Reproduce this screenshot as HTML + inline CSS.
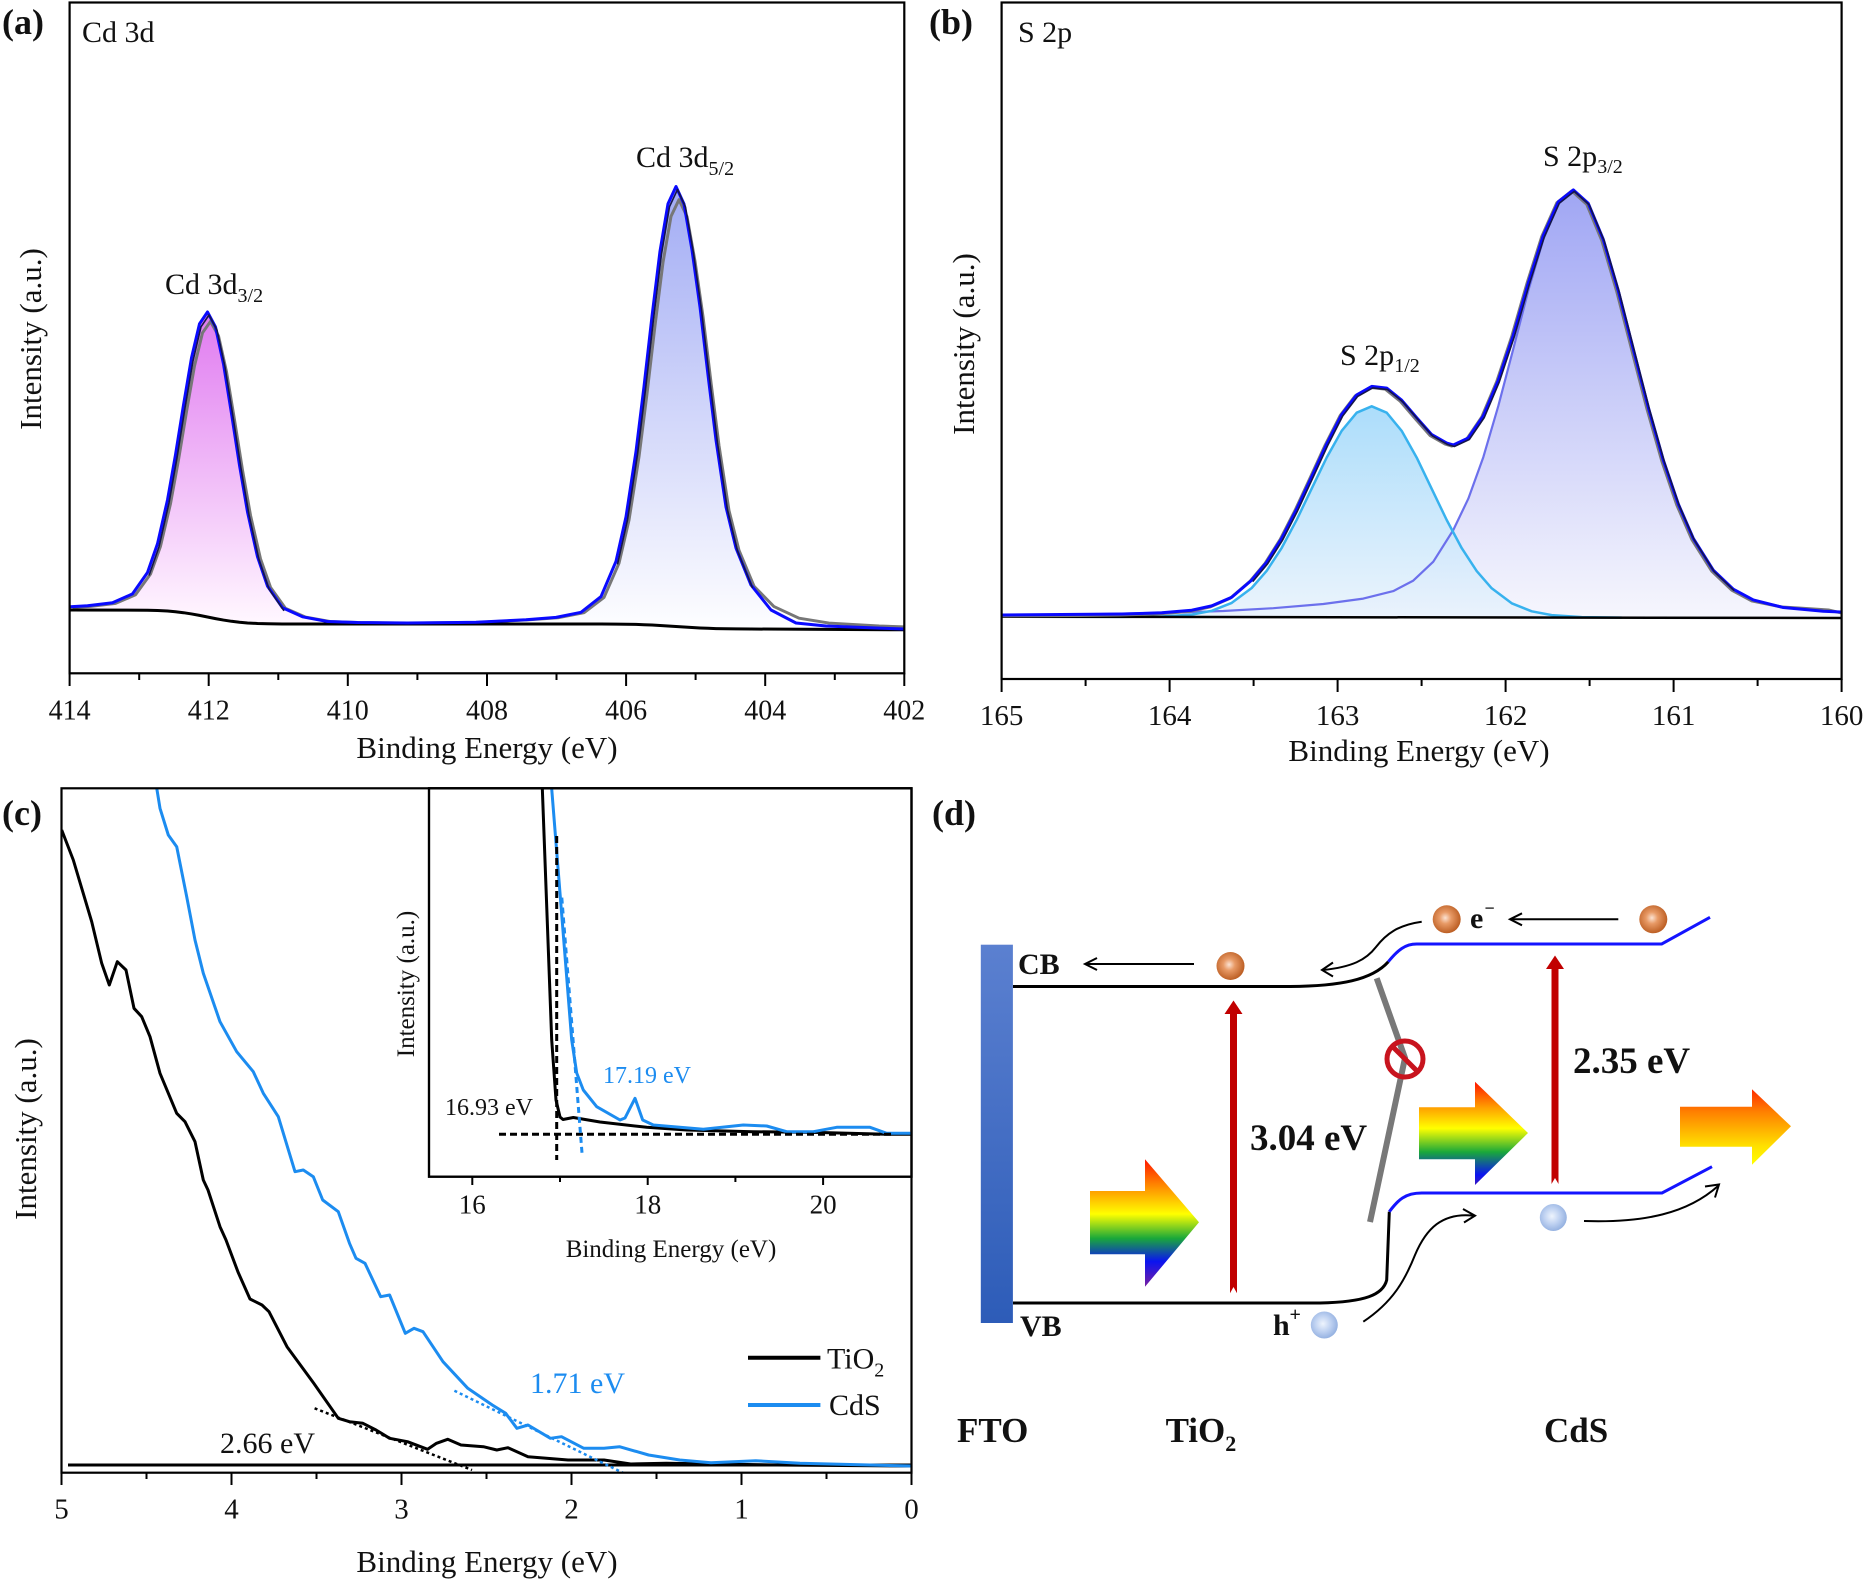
<!DOCTYPE html>
<html>
<head>
<meta charset="utf-8">
<style>
html,body{margin:0;padding:0;background:#fff;}
svg{display:block;}
</style>
</head>
<body>
<svg width="1863" height="1582" viewBox="0 0 1863 1582" xmlns="http://www.w3.org/2000/svg" font-family="'Liberation Serif', serif">
<defs>
  <linearGradient id="gA1" gradientUnits="userSpaceOnUse" x1="0" y1="312" x2="0" y2="620">
    <stop offset="0" stop-color="#e07af0"/><stop offset="1" stop-color="#fff6ff"/>
  </linearGradient>
  <linearGradient id="gA2" gradientUnits="userSpaceOnUse" x1="0" y1="186" x2="0" y2="626">
    <stop offset="0" stop-color="#a2acf4"/><stop offset="1" stop-color="#fdfdff"/>
  </linearGradient>
  <linearGradient id="gB1" gradientUnits="userSpaceOnUse" x1="0" y1="406" x2="0" y2="617">
    <stop offset="0" stop-color="#9dd7fa"/><stop offset="1" stop-color="#e8f2fc"/>
  </linearGradient>
  <linearGradient id="gB2" gradientUnits="userSpaceOnUse" x1="0" y1="190" x2="0" y2="617">
    <stop offset="0" stop-color="#a0a6f4"/><stop offset="1" stop-color="#f6f6fd"/>
  </linearGradient>
  <linearGradient id="gFTO" x1="0" y1="0" x2="0" y2="1">
    <stop offset="0" stop-color="#5b80d0"/><stop offset="1" stop-color="#2d5cb8"/>
  </linearGradient>
  <linearGradient id="rb1" gradientUnits="userSpaceOnUse" x1="0" y1="1159" x2="0" y2="1287">
    <stop offset="0" stop-color="#ff1500"/><stop offset="0.25" stop-color="#ffa000"/>
    <stop offset="0.43" stop-color="#ffff00"/><stop offset="0.62" stop-color="#1aa83a"/>
    <stop offset="0.8" stop-color="#0a14f0"/><stop offset="1" stop-color="#7a1ea0"/>
  </linearGradient>
  <linearGradient id="rb2" gradientUnits="userSpaceOnUse" x1="0" y1="1082" x2="0" y2="1185">
    <stop offset="0" stop-color="#ff1500"/><stop offset="0.25" stop-color="#ffa000"/>
    <stop offset="0.45" stop-color="#ffff00"/><stop offset="0.68" stop-color="#1aa83a"/>
    <stop offset="0.9" stop-color="#0a14f0"/><stop offset="1" stop-color="#3a18c0"/>
  </linearGradient>
  <linearGradient id="rb3" gradientUnits="userSpaceOnUse" x1="0" y1="1089" x2="0" y2="1165">
    <stop offset="0" stop-color="#ff2a00"/><stop offset="0.3" stop-color="#ff8000"/>
    <stop offset="0.75" stop-color="#ffe000"/><stop offset="1" stop-color="#ffff00"/>
  </linearGradient>
  <radialGradient id="gE" cx="0.45" cy="0.45" r="0.6">
    <stop offset="0" stop-color="#fbe2d2"/><stop offset="0.35" stop-color="#e89a66"/><stop offset="1" stop-color="#b6561a"/>
  </radialGradient>
  <radialGradient id="gH" cx="0.45" cy="0.45" r="0.6">
    <stop offset="0" stop-color="#eef4fd"/><stop offset="0.5" stop-color="#bed1f1"/><stop offset="1" stop-color="#8eacde"/>
  </radialGradient>
  <clipPath id="cA"><rect x="70" y="3" width="834" height="670"/></clipPath>
  <clipPath id="cB"><rect x="1002" y="3" width="839" height="676"/></clipPath>
  <clipPath id="cC"><rect x="62" y="789" width="849" height="683"/></clipPath>
  <clipPath id="cI"><rect x="430" y="789" width="481" height="387"/></clipPath>
</defs>

<!-- ================= Panel (a) ================= -->
<g clip-path="url(#cA)">
  <polygon fill="url(#gA1)" points="69.6,606.8 87.5,605.8 112.5,602.8 132.5,593.9 147.5,572.5 157.5,543.8 167.5,499.9 175.5,454.8 183.5,405 191.5,357.9 199.5,323.8 207.5,312 215.5,327 223.5,364 231.5,413.6 239.5,465.3 247.5,511.9 257.5,556.8 267.5,586.1 282.5,607.8 302.5,616.8 327.5,621.5 327.5,624 302.5,624 282.5,623.95 267.5,623.8 257.5,623.5 247.5,622.95 239.5,622.25 231.5,621.3 223.5,620.05 215.5,618.6 207.5,617 199.5,615.4 191.5,613.95 183.5,612.7 175.5,611.75 167.5,611.05 157.5,610.5 147.5,610.2 69.6,610"/>
  <polygon fill="url(#gA2)" points="526,619.7 556,617.4 581,612.3 601,596.6 616,561.3 626,516.8 636,451.5 644,386.5 652,316.3 660,251.2 668,203.7 676,186.5 684,204 692,250 700,307 708,375 716,440 726,507 736,548 751,585 771,610 796,623 826,626 876,628 904.3,629 904.3,629.5 751,629 736,628.9 726,628.8 716,628.6 708,628.3 700,627.98 692,627.55 684,627.04 676,626.5 668,625.96 660,625.45 652,625 644,624.7 636,624.4 626,624.2 616,624.1 601,624.02 581,624 526,624"/>
  <!-- gray raw data -->
  <polyline fill="none" stroke="#777" stroke-width="3" stroke-linejoin="round" transform="translate(3,18.75) scale(1,0.97)" points="69.6,606.8 87.5,605.8 112.5,602.8 132.5,593.9 147.5,572.5 157.5,543.8 167.5,499.9 175.5,454.8 183.5,405 191.5,357.9 199.5,323.8 207.5,312 215.5,327 223.5,364 231.5,413.6 239.5,465.3 247.5,511.9 257.5,556.8 267.5,586.1 282.5,607.8 302.5,616.8 327.5,621.5 357.5,622.5 407.5,623 457.5,622.5 476,622.3 526,619.7 556,617.4 581,612.3 601,596.6 616,561.3 626,516.8 636,451.5 644,386.5 652,316.3 660,251.2 668,203.7 676,186.5 684,204 692,250 700,307 708,375 716,440 726,507 736,548 751,585 771,606 796,618 826,623 876,626 904.3,627"/>
  <!-- background -->
  <polyline fill="none" stroke="#000" stroke-width="3" stroke-linejoin="round" points="69.6,610 147.5,610.2 157.5,610.5 167.5,611.05 175.5,611.75 183.5,612.7 191.5,613.95 199.5,615.4 207.5,617 215.5,618.6 223.5,620.05 231.5,621.3 239.5,622.25 247.5,622.95 257.5,623.5 267.5,623.8 282.5,623.95 302.5,624 581,624 601,624.02 616,624.1 626,624.2 636,624.4 644,624.7 652,625 660,625.45 668,625.96 676,626.5 684,627.04 692,627.55 700,627.98 708,628.3 716,628.6 726,628.8 736,628.9 751,629 904.3,629.8"/>
  <!-- fit envelope -->
  <polyline fill="none" stroke="#0a0aff" stroke-width="3" stroke-linejoin="round" points="69.6,606.8 87.5,605.8 112.5,602.8 132.5,593.9 147.5,572.5 157.5,543.8 167.5,499.9 175.5,454.8 183.5,405 191.5,357.9 199.5,323.8 207.5,312 215.5,327 223.5,364 231.5,413.6 239.5,465.3 247.5,511.9 257.5,556.8 267.5,586.1 282.5,607.8 302.5,616.8 327.5,621.5 357.5,622.5 407.5,623 457.5,622.5 476,622.3 526,619.7 556,617.4 581,612.3 601,596.6 616,561.3 626,516.8 636,451.5 644,386.5 652,316.3 660,251.2 668,203.7 676,186.5 684,204 692,250 700,307 708,375 716,440 726,507 736,548 751,585 771,610 796,623 826,626 876,628 904.3,629"/>
  <polyline fill="none" stroke="#15154a" stroke-width="1.6" stroke-linejoin="round" transform="translate(1.5,3)" points="147.5,572.5 157.5,543.8 167.5,499.9 175.5,454.8 183.5,405 191.5,357.9 199.5,323.8 207.5,312 215.5,327 223.5,364 231.5,413.6 239.5,465.3 247.5,511.9 257.5,556.8 267.5,586.1 282.5,607.8"/>
  <polyline fill="none" stroke="#15154a" stroke-width="1.6" stroke-linejoin="round" transform="translate(1.5,3)" points="616,561.3 626,516.8 636,451.5 644,386.5 652,316.3 660,251.2 668,203.7 676,186.5 684,204 692,250 700,307 708,375 716,440 726,507 736,548 751,585"/>
</g>
<rect x="69.6" y="2.5" width="834.7" height="670.8" fill="none" stroke="#000" stroke-width="2.2"/>
<g stroke="#000" stroke-width="2">
  <line x1="69.6" y1="673" x2="69.6" y2="686"/><line x1="139.2" y1="673" x2="139.2" y2="680"/>
  <line x1="208.7" y1="673" x2="208.7" y2="686"/><line x1="278.3" y1="673" x2="278.3" y2="680"/>
  <line x1="347.8" y1="673" x2="347.8" y2="686"/><line x1="417.4" y1="673" x2="417.4" y2="680"/>
  <line x1="487" y1="673" x2="487" y2="686"/><line x1="556.5" y1="673" x2="556.5" y2="680"/>
  <line x1="626.1" y1="673" x2="626.1" y2="686"/><line x1="695.6" y1="673" x2="695.6" y2="680"/>
  <line x1="765.2" y1="673" x2="765.2" y2="686"/><line x1="834.8" y1="673" x2="834.8" y2="680"/>
  <line x1="904.3" y1="673" x2="904.3" y2="686"/>
</g>
<g font-size="28" text-anchor="middle" fill="#111">
  <text x="69.6" y="719.3">414</text><text x="208.7" y="719.3">412</text><text x="347.8" y="719.3">410</text>
  <text x="487" y="719.3">408</text><text x="626.1" y="719.3">406</text><text x="765.2" y="719.3">404</text>
  <text x="904.3" y="719.3">402</text>
</g>
<text x="487" y="758" font-size="31" text-anchor="middle" fill="#111">Binding Energy (eV)</text>
<text transform="translate(41,339) rotate(-90)" font-size="31" text-anchor="middle" fill="#111">Intensity (a.u.)</text>
<text x="2" y="34" font-size="36" font-weight="bold" fill="#111">(a)</text>
<text x="82" y="42" font-size="30" fill="#111">Cd 3d</text>
<text x="165" y="294" font-size="30" fill="#111">Cd 3d<tspan font-size="20" dy="8">3/2</tspan></text>
<text x="636" y="167" font-size="30" fill="#111">Cd 3d<tspan font-size="20" dy="8">5/2</tspan></text>

<!-- ================= Panel (b) ================= -->
<g clip-path="url(#cB)">
  <polygon fill="url(#gB2)" points="1001.6,615.0 1073.3,614.6 1173.3,612.6 1223.3,611.0 1273.3,608.2 1323.3,604.0 1363.3,598.6 1393.3,591.1 1413.3,580.6 1433.3,561.7 1453.3,530.0 1468.3,498.7 1483.3,457.2 1498.3,406 1513.3,348.9 1528.3,290.6 1543.3,239.5 1558.3,203.8 1573.3,190.9 1588.3,203.8 1603.3,239.5 1618.3,290.7 1633.3,349.1 1648.3,407.3 1663.3,460.0 1678.3,504.0 1693.3,538.4 1713.3,570.2 1733.3,589.2 1753.3,599.9 1783.3,607.5 1823.3,611.3 1841.6,612 1841.6,618 1001.6,616.7"/>
  <polygon fill="url(#gB1)" fill-opacity="0.85" points="1001.6,616.7 1121.7,616.9 1161.7,616.5 1191.7,614.6 1211.7,610.8 1231.7,602.9 1251.7,588.0 1266.7,570.8 1281.7,547.9 1296.7,519.8 1311.7,488.6 1326.7,457.5 1341.7,430.8 1356.7,412.7 1371.7,406.3 1386.7,412.7 1401.7,430.9 1416.7,457.6 1431.7,488.8 1446.7,520.0 1461.7,548.1 1476.7,571.1 1491.7,588.3 1511.7,603.3 1531.7,611.3 1551.7,615.1 1581.7,617.1 1621.7,617.6"/>
  <polyline fill="none" stroke="#6c70ec" stroke-width="2.2" stroke-linejoin="round" points="1001.6,615.0 1073.3,614.6 1173.3,612.6 1223.3,611.0 1273.3,608.2 1323.3,604.0 1363.3,598.6 1393.3,591.1 1413.3,580.6 1433.3,561.7 1453.3,530.0 1468.3,498.7 1483.3,457.2 1498.3,406 1513.3,348.9 1528.3,290.6 1543.3,239.5 1558.3,203.8 1573.3,190.9 1588.3,203.8 1603.3,239.5 1618.3,290.7 1633.3,349.1 1648.3,407.3 1663.3,460.0 1678.3,504.0 1693.3,538.4 1713.3,570.2 1733.3,589.2 1753.3,599.9 1783.3,607.5 1823.3,611.3 1841.6,612"/>
  <polyline fill="none" stroke="#38b2ee" stroke-width="2.5" stroke-linejoin="round" points="1001.6,616.7 1121.7,616.9 1161.7,616.5 1191.7,614.6 1211.7,610.8 1231.7,602.9 1251.7,588.0 1266.7,570.8 1281.7,547.9 1296.7,519.8 1311.7,488.6 1326.7,457.5 1341.7,430.8 1356.7,412.7 1371.7,406.3 1386.7,412.7 1401.7,430.9 1416.7,457.6 1431.7,488.8 1446.7,520.0 1461.7,548.1 1476.7,571.1 1491.7,588.3 1511.7,603.3 1531.7,611.3 1551.7,615.1 1581.7,617.1 1621.7,617.6"/>
  <line x1="1001.6" y1="616.7" x2="1841.6" y2="618" stroke="#000" stroke-width="2.5"/>
  <polyline fill="none" stroke="#777" stroke-width="3" stroke-linejoin="round" transform="translate(-1.5,1)" points="1001.6,615.0 1080,614.5 1121.7,614.0 1161.7,612.8 1191.7,610.2 1211.7,605.9 1231.7,597.3 1251.7,580.1 1266.7,562.2 1281.7,538.4 1296.7,509.1 1311.7,476.7 1326.7,444.0 1341.7,414.5 1356.7,394.9 1371.7,386.4 1386.7,388.1 1401.7,400.2 1416.7,417.7 1431.7,434.6 1446.7,443.1 1453.3,445.0 1468.3,438.0 1483.3,416.0 1498.3,380.4 1513.3,335.3 1528.3,283.0 1543.3,235.5 1558.3,201.8 1573.3,189.9 1588.3,203.4 1603.3,239.5 1618.3,290.7 1633.3,349.1 1648.3,407.3 1663.3,460.0 1678.3,504.0 1693.3,538.4 1713.3,570.2 1733.3,589.2 1753.3,599.9 1783.3,606 1800,607 1815,608 1830,609 1843,612"/>
  <polyline fill="none" stroke="#0a0aff" stroke-width="3" stroke-linejoin="round" points="1001.6,615.0 1121.7,614.0 1161.7,612.8 1191.7,610.2 1211.7,605.9 1231.7,597.3 1251.7,580.1 1266.7,562.2 1281.7,538.4 1296.7,509.1 1311.7,476.7 1326.7,444.0 1341.7,414.5 1356.7,394.9 1371.7,386.4 1386.7,388.1 1401.7,400.2 1416.7,417.7 1431.7,434.6 1446.7,443.1 1453.3,445.0 1468.3,438.0 1483.3,416.0 1498.3,380.4 1513.3,335.3 1528.3,283.0 1543.3,235.5 1558.3,201.8 1573.3,189.9 1588.3,203.4 1603.3,239.5 1618.3,290.7 1633.3,349.1 1648.3,407.3 1663.3,460.0 1678.3,504.0 1693.3,538.4 1713.3,570.2 1733.3,589.2 1753.3,599.9 1783.3,607.5 1823.3,611.3 1841.6,612"/>
  <polyline fill="none" stroke="#15154a" stroke-width="1.6" stroke-linejoin="round" transform="translate(1,1.5)" points="1251.7,580.1 1266.7,562.2 1281.7,538.4 1296.7,509.1 1311.7,476.7 1326.7,444.0 1341.7,414.5 1356.7,394.9 1371.7,386.4 1386.7,388.1 1401.7,400.2 1416.7,417.7 1431.7,434.6 1446.7,443.1 1453.3,445.0 1468.3,438.0 1483.3,416.0 1498.3,380.4 1513.3,335.3 1528.3,283.0 1543.3,235.5 1558.3,201.8 1573.3,189.9 1588.3,203.4 1603.3,239.5 1618.3,290.7 1633.3,349.1 1648.3,407.3 1663.3,460.0 1678.3,504.0 1693.3,538.4 1713.3,570.2 1733.3,589.2"/>
</g>
<rect x="1001.6" y="2.5" width="840" height="676.5" fill="none" stroke="#000" stroke-width="2.2"/>
<g stroke="#000" stroke-width="2">
  <line x1="1001.6" y1="679" x2="1001.6" y2="692"/><line x1="1085.6" y1="679" x2="1085.6" y2="686"/>
  <line x1="1169.6" y1="679" x2="1169.6" y2="692"/><line x1="1253.6" y1="679" x2="1253.6" y2="686"/>
  <line x1="1337.6" y1="679" x2="1337.6" y2="692"/><line x1="1421.6" y1="679" x2="1421.6" y2="686"/>
  <line x1="1505.6" y1="679" x2="1505.6" y2="692"/><line x1="1589.6" y1="679" x2="1589.6" y2="686"/>
  <line x1="1673.6" y1="679" x2="1673.6" y2="692"/><line x1="1757.6" y1="679" x2="1757.6" y2="686"/>
  <line x1="1841.6" y1="679" x2="1841.6" y2="692"/>
</g>
<g font-size="29" text-anchor="middle" fill="#111">
  <text x="1001.6" y="725">165</text><text x="1169.6" y="725">164</text><text x="1337.6" y="725">163</text>
  <text x="1505.6" y="725">162</text><text x="1673.6" y="725">161</text><text x="1841.6" y="725">160</text>
</g>
<text x="1419" y="761" font-size="31" text-anchor="middle" fill="#111">Binding Energy (eV)</text>
<text transform="translate(974,344) rotate(-90)" font-size="31" text-anchor="middle" fill="#111">Intensity (a.u.)</text>
<text x="929" y="34" font-size="36" font-weight="bold" fill="#111">(b)</text>
<text x="1018" y="42" font-size="30" fill="#111">S 2p</text>
<text x="1340" y="365" font-size="30" fill="#111">S 2p<tspan font-size="20" dy="7">1/2</tspan></text>
<text x="1543" y="166" font-size="30" fill="#111">S 2p<tspan font-size="20" dy="7">3/2</tspan></text>

<!-- ================= Panel (c) ================= -->
<g clip-path="url(#cC)">
  <line x1="68" y1="1465" x2="911" y2="1465" stroke="#000" stroke-width="3"/>
  <polyline fill="none" stroke="#000" stroke-width="3" stroke-linejoin="round" points="61.7,830 73.3,860 91.7,921.7 101.7,963.3 109.3,985 117.3,961.7 126,970 134,1008.3 141.7,1016.7 150,1036.7 160,1073.3 176.7,1113.3 185,1121.7 195,1141.7 203.3,1180 208,1190 220,1226.7 226,1240 238,1272 250,1299 262,1305 269,1311.7 287,1346.7 313.75,1383.3 338.3,1418.3 349.5,1421.7 362.9,1423.3 376,1430 389.6,1438.3 407.5,1441.7 427.6,1449.3 436.5,1443.3 447.7,1439.3 461,1445 483.4,1446.7 496.8,1450 508,1447.7 528,1456.7 568,1460 604,1460 630.7,1464 666.4,1463.3 778,1465 911,1466"/>
  <polyline fill="none" stroke="#1c8cf0" stroke-width="3" stroke-linejoin="round" points="155,780 156.7,788 160,808.3 168.3,835 176.7,846.7 186.7,896.7 195,940 203.3,973.3 220,1021.7 236.7,1051.7 253.3,1071.7 263.3,1093.3 278.3,1116.7 295,1171.7 303.3,1170 313.3,1176.7 322.7,1200 338.3,1211.7 349.5,1243.3 356,1258.3 365,1263.3 380.7,1296.7 389.6,1295 405.3,1333.3 414,1328.3 423,1331.7 443,1361.7 467.8,1388.3 492.3,1405 505.7,1413.3 516.9,1428.3 528,1425 550.4,1438.3 561.5,1436.7 583.8,1448.3 604,1448.3 619.5,1446.7 648.6,1455 679.8,1460 711,1462.7 755.7,1460.7 800,1463.3 911,1466"/>
  <line x1="314.6" y1="1408.3" x2="472" y2="1470" stroke="#000" stroke-width="2.5" stroke-dasharray="3,3"/>
  <line x1="454.4" y1="1390.7" x2="624" y2="1473.3" stroke="#1c8cf0" stroke-width="2.5" stroke-dasharray="3,3"/>
</g>
<!-- inset -->
<rect x="429" y="788.3" width="482.5" height="388.4" fill="#fff" stroke="#000" stroke-width="2.2"/>
<g clip-path="url(#cI)">
  <polyline fill="none" stroke="#000" stroke-width="3" stroke-linejoin="round" points="542,780 551.7,1040 556,1100 560,1117 563,1119.5 573.3,1117.5 600,1122 646.7,1127.3 686.7,1130 753,1131.7 820,1132.5 886.7,1134.3 911,1134.3"/>
  <polyline fill="none" stroke="#1c8cf0" stroke-width="3" stroke-linejoin="round" points="551,780 571.7,1040 576.7,1073 583.3,1090 596.7,1106.7 620,1120 625,1118 635,1098.3 642.7,1120 653.3,1125 703.3,1129.3 743.3,1125 766.7,1126 786.7,1131.7 813.3,1131.7 836.7,1127.3 870,1127.3 886.7,1133.3 911.7,1133.3"/>
  <line x1="499" y1="1134.3" x2="893" y2="1134.3" stroke="#000" stroke-width="3" stroke-dasharray="7,4"/>
  <line x1="556.7" y1="836" x2="556.7" y2="1160" stroke="#000" stroke-width="3" stroke-dasharray="7,4"/>
  <line x1="561.8" y1="897.6" x2="582.3" y2="1156.7" stroke="#1c8cf0" stroke-width="3" stroke-dasharray="6,4"/>
</g>
<rect x="429" y="788.3" width="482.5" height="388.4" fill="none" stroke="#000" stroke-width="2.2"/>
<g stroke="#000" stroke-width="2">
  <line x1="472.3" y1="1176.7" x2="472.3" y2="1185"/><line x1="560" y1="1176.7" x2="560" y2="1182"/>
  <line x1="647.7" y1="1176.7" x2="647.7" y2="1185"/><line x1="735.4" y1="1176.7" x2="735.4" y2="1182"/>
  <line x1="823.1" y1="1176.7" x2="823.1" y2="1185"/>
</g>
<g font-size="27" text-anchor="middle" fill="#111">
  <text x="472.3" y="1213.3">16</text><text x="647.7" y="1213.3">18</text><text x="823.1" y="1213.3">20</text>
</g>
<text x="671" y="1257" font-size="25" text-anchor="middle" fill="#111">Binding Energy (eV)</text>
<text transform="translate(414,984) rotate(-90)" font-size="25" text-anchor="middle" fill="#111">Intensity (a.u.)</text>
<text x="445" y="1115" font-size="24" fill="#111">16.93 eV</text>
<text x="603" y="1083" font-size="24" fill="#1c8cf0">17.19 eV</text>
<!-- main frame -->
<rect x="61.5" y="788.3" width="850" height="684.4" fill="none" stroke="#000" stroke-width="2.2"/>
<g stroke="#000" stroke-width="2">
  <line x1="61.5" y1="1472.7" x2="61.5" y2="1485"/><line x1="146.5" y1="1472.7" x2="146.5" y2="1479"/>
  <line x1="231.5" y1="1472.7" x2="231.5" y2="1485"/><line x1="316.5" y1="1472.7" x2="316.5" y2="1479"/>
  <line x1="401.5" y1="1472.7" x2="401.5" y2="1485"/><line x1="486.5" y1="1472.7" x2="486.5" y2="1479"/>
  <line x1="571.5" y1="1472.7" x2="571.5" y2="1485"/><line x1="656.5" y1="1472.7" x2="656.5" y2="1479"/>
  <line x1="741.5" y1="1472.7" x2="741.5" y2="1485"/><line x1="826.5" y1="1472.7" x2="826.5" y2="1479"/>
  <line x1="911.5" y1="1472.7" x2="911.5" y2="1485"/>
</g>
<g font-size="29" text-anchor="middle" fill="#111">
  <text x="61.5" y="1518.3">5</text><text x="231.5" y="1518.3">4</text><text x="401.5" y="1518.3">3</text>
  <text x="571.5" y="1518.3">2</text><text x="741.5" y="1518.3">1</text><text x="911.5" y="1518.3">0</text>
</g>
<text x="487" y="1572" font-size="31" text-anchor="middle" fill="#111">Binding Energy (eV)</text>
<text transform="translate(36,1129) rotate(-90)" font-size="31" text-anchor="middle" fill="#111">Intensity (a.u.)</text>
<text x="2" y="825" font-size="36" font-weight="bold" fill="#111">(c)</text>
<text x="220" y="1453" font-size="30" fill="#111">2.66 eV</text>
<text x="530" y="1393" font-size="30" fill="#1c8cf0">1.71 eV</text>
<line x1="748" y1="1357.7" x2="820.4" y2="1357.7" stroke="#000" stroke-width="4"/>
<text x="827" y="1368.3" font-size="30" fill="#111">TiO<tspan font-size="20" dy="8">2</tspan></text>
<line x1="748" y1="1405" x2="820.4" y2="1405" stroke="#1c8cf0" stroke-width="4"/>
<text x="829" y="1415" font-size="30" fill="#111">CdS</text>

<!-- ================= Panel (d) ================= -->
<text x="932" y="825" font-size="36" font-weight="bold" fill="#111">(d)</text>
<rect x="980.8" y="944.7" width="32.1" height="378.3" fill="url(#gFTO)"/>
<text x="1018" y="974" font-size="30" font-weight="bold" fill="#111">CB</text>
<text x="1020" y="1336" font-size="30" font-weight="bold" fill="#111">VB</text>
<!-- bands -->
<path d="M1013,986.5 L1290,986.5 C1340,986 1372,980 1388.3,961.7" fill="none" stroke="#000" stroke-width="3"/>
<path d="M1388.3,961.7 C1398,950 1405,944 1416.7,944 L1661.7,944 L1710,917.3" fill="none" stroke="#1414ff" stroke-width="3"/>
<path d="M1013,1303 L1320,1303 C1365,1302 1383,1295 1386.7,1280 L1389.3,1211.7" fill="none" stroke="#000" stroke-width="3"/>
<path d="M1389.3,1211.7 C1398,1200 1405,1193 1421.7,1193 L1662,1193 L1712,1166.7" fill="none" stroke="#1414ff" stroke-width="3"/>
<!-- gray barrier and forbidden sign -->
<polyline points="1376.7,978.3 1405,1058 1370,1222" fill="none" stroke="#787878" stroke-width="6"/>
<circle cx="1405" cy="1059" r="18" fill="none" stroke="#c8141e" stroke-width="5"/>
<line x1="1392.3" y1="1046.3" x2="1417.7" y2="1071.7" stroke="#c8141e" stroke-width="5"/>
<!-- red excitation arrows -->
<polygon points="1224.5,1014 1233.5,1000.5 1242.5,1014" fill="#c10000"/>
<polygon points="1230,1013 1237,1013 1237,1293.3 1233.5,1287 1230,1293.3" fill="#c10000"/>
<polygon points="1546,969 1555,955.5 1564,969" fill="#c10000"/>
<polygon points="1551.5,968 1558.5,968 1558.5,1184 1555,1178 1551.5,1184" fill="#c10000"/>
<text x="1250" y="1150" font-size="37" font-weight="bold" fill="#111">3.04 eV</text>
<text x="1573" y="1073" font-size="37" font-weight="bold" fill="#111">2.35 eV</text>
<!-- rainbow arrows -->
<polygon points="1090,1191 1145,1191 1145,1159.3 1199,1222.3 1145,1286.7 1145,1254.3 1090,1254.3" fill="url(#rb1)"/>
<polygon points="1419,1107.3 1475,1107.3 1475,1081.7 1528,1133 1475,1185 1475,1159.3 1419,1159.3" fill="url(#rb2)"/>
<polygon points="1680,1106.7 1752,1106.7 1752,1089.3 1791,1126.3 1752,1164.7 1752,1146.7 1680,1146.7" fill="url(#rb3)"/>
<!-- thin black arrows -->
<g fill="none" stroke="#000" stroke-width="2">
  <line x1="1194" y1="964" x2="1086" y2="964"/>
  <polyline points="1097,958 1085,964 1097,970"/>
  <line x1="1618.3" y1="919.3" x2="1511" y2="919.3"/>
  <polyline points="1522,913.3 1510,919.3 1522,925.3"/>
  <path d="M1421.7,921.7 C1398,925 1386,934 1376,947 C1366,960 1352,967 1323,970"/>
  <polyline points="1333,962.5 1322,970 1333,976.5"/>
  <path d="M1363.3,1321.7 C1393,1302 1405,1280 1415,1255 C1426,1229 1442,1212 1474,1215.7"/>
  <polyline points="1463,1209 1475,1215.7 1464,1222.5"/>
  <path d="M1584,1221 C1645,1223 1688,1213 1718,1186"/>
  <polyline points="1705,1186.5 1719,1184.5 1715,1197.5"/>
</g>
<!-- carriers -->
<circle cx="1230.5" cy="966" r="14" fill="url(#gE)"/>
<circle cx="1446.7" cy="919.3" r="14" fill="url(#gE)"/>
<circle cx="1653.3" cy="919.3" r="14" fill="url(#gE)"/>
<circle cx="1324.3" cy="1325" r="13.5" fill="url(#gH)"/>
<circle cx="1553.3" cy="1217.5" r="13.5" fill="url(#gH)"/>
<text x="1470" y="928" font-size="30" font-weight="bold" fill="#111">e</text>
<text x="1484.5" y="914" font-size="18" font-weight="bold" fill="#111">−</text>
<text x="1273" y="1335" font-size="30" font-weight="bold" fill="#111">h</text>
<text x="1289.5" y="1321" font-size="20" font-weight="bold" fill="#111">+</text>
<!-- bottom labels -->
<text x="957" y="1442" font-size="35" font-weight="bold" fill="#111">FTO</text>
<text x="1165.6" y="1442" font-size="35" font-weight="bold" fill="#111">TiO<tspan font-size="22" dy="9">2</tspan></text>
<text x="1544" y="1442" font-size="35" font-weight="bold" fill="#111">CdS</text>
</svg>
</body>
</html>
